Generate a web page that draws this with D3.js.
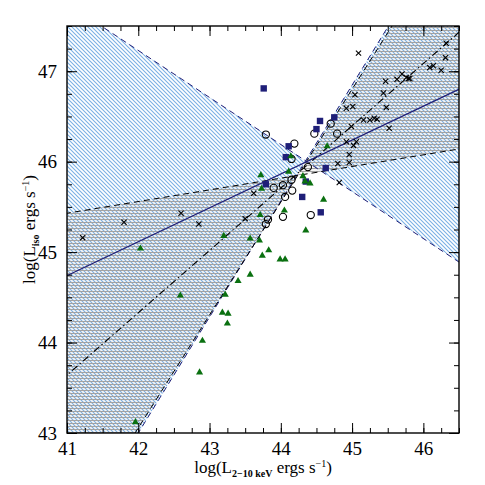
<!DOCTYPE html>
<html>
<head>
<meta charset="utf-8">
<script src="https://cdn.jsdelivr.net/npm/d3@7"></script>
<style>
  body { margin: 0; background: #fff; }
  text { font-family: "Liberation Serif", "DejaVu Serif", serif; fill: #000; }
</style>
</head>
<body>
<div id="chart"></div>
<script>
// axis ticks
var xTicks = [41, 42, 43, 44, 45, 46];
var yTicks = [43, 44, 45, 46, 47];

// fits and their uncertainty bounds (two end points each)
var fitBlack = [[41, 43.64], [46.5, 47.43]];
var boundBlackShallow = [[41, 45.43], [46.5, 46.14]];
var boundBlackSteep = [[41.955, 43], [45.56, 47.5]];
var fitBlue = [[41, 44.74], [46.5, 46.80]];
var boundBlueSteep = [[42.0, 43], [45.51, 47.5]];
var boundBlueNeg = [[41.48, 47.5], [46.5, 44.89]];

// data points
var crosses = [
  [41.22, 45.16], [41.80, 45.33], [42.60, 45.43], [42.85, 45.31], [43.50, 45.37],
  [43.62, 45.65], [45.09, 47.20], [46.32, 47.31], [46.31, 47.15], [46.09, 47.04],
  [46.14, 47.06], [46.25, 47.01], [45.70, 46.97], [45.63, 46.91], [45.76, 46.93],
  [45.79, 46.92], [45.81, 46.92], [45.47, 46.89], [45.04, 46.74], [45.44, 46.76],
  [44.92, 46.59], [45.01, 46.61], [45.48, 46.60], [45.16, 46.46], [45.25, 46.46],
  [45.31, 46.48], [45.35, 46.47], [44.99, 46.39], [45.52, 46.37], [44.92, 46.22],
  [45.02, 46.18], [45.06, 46.22], [44.96, 46.08], [44.80, 45.98], [44.96, 45.99],
  [44.82, 45.77]
];
var circles = [
  [43.79, 46.30], [44.19, 46.20], [44.15, 46.03], [44.47, 46.31], [44.70, 46.42],
  [44.79, 46.31], [44.38, 45.94], [44.15, 45.80], [44.03, 45.74], [43.90, 45.71],
  [44.16, 45.68], [44.06, 45.61], [43.82, 45.36], [43.79, 45.31], [44.03, 45.39],
  [44.42, 45.41]
];
var squares = [
  [43.76, 46.81], [44.55, 46.45], [44.50, 46.36], [44.75, 46.49], [44.11, 46.17],
  [44.07, 46.05], [44.63, 45.93], [43.79, 45.75], [44.35, 45.78], [44.30, 45.61],
  [44.56, 45.44]
];
var triangles = [
  [42.03, 45.04], [42.59, 44.52], [43.20, 45.18], [43.57, 45.15], [43.70, 45.13],
  [43.71, 45.41], [44.05, 45.46], [44.35, 45.24], [43.83, 45.02], [43.74, 44.96],
  [43.99, 44.92], [44.06, 44.92], [43.57, 44.75], [43.40, 44.68], [43.22, 44.53],
  [43.18, 44.33], [43.26, 44.32], [43.25, 44.21], [42.90, 44.02], [42.86, 43.67],
  [41.96, 43.12], [43.72, 45.85], [44.14, 46.06], [44.11, 45.89], [43.73, 45.70],
  [44.31, 45.84], [44.34, 45.78], [44.41, 45.76], [44.65, 46.17], [44.60, 45.58]
];

var W = 485, H = 485;
var margin = {top: 26, right: 26, bottom: 52, left: 67},
    width = W - margin.left - margin.right,
    height = H - margin.top - margin.bottom;

var navy = "#1f1f78", green = "#0a7010", hatchBlue = "#7ab0e4", hatchGray = "#a2a2a2";

var svg = d3.select("#chart").append("svg")
    .attr("width", W).attr("height", H);

var defs = svg.append("defs");
defs.append("clipPath").attr("id", "plotclip")
  .append("rect").attr("width", width).attr("height", height);

var pb = defs.append("pattern").attr("id", "hatchBlue")
    .attr("patternUnits", "userSpaceOnUse").attr("width", 4).attr("height", 4);
pb.append("path").attr("d", "M-1,-1 L5,5 M3,-1 L5,1 M-1,3 L1,5")
    .attr("stroke", hatchBlue).attr("stroke-width", 1.1);

var pg = defs.append("pattern").attr("id", "hatchGray")
    .attr("patternUnits", "userSpaceOnUse").attr("width", 4).attr("height", 3);
pg.append("path").attr("d", "M0,1.5 L4,1.5")
    .attr("stroke", hatchGray).attr("stroke-width", 1.2);

var g = svg.append("g")
    .attr("transform", "translate(" + margin.left + "," + margin.top + ")");

var x = d3.scaleLinear().domain([41, 46.5]).range([0, width]);
var y = d3.scaleLinear().domain([43, 47.5]).range([height, 0]);

// straight line through two points, as a function
function lineFn(pts) {
  var m = (pts[1][1] - pts[0][1]) / (pts[1][0] - pts[0][0]);
  return function(v) { return pts[0][1] + m * (v - pts[0][0]); };
}
function crossing(a, b) {
  var fa = lineFn(a), fb = lineFn(b);
  var ma = fa(1) - fa(0), mb = fb(1) - fb(0);
  var xi = (fb(0) - fa(0)) / (ma - mb);
  return [xi, fa(xi)];
}
// bowtie between two lines, cut to the plot later
function bowtie(a, b) {
  var fa = lineFn(a), fb = lineFn(b), p = crossing(a, b);
  var lo = 35, hi = 52;
  return [
    [p, [lo, fa(lo)], [lo, fb(lo)]],
    [p, [hi, fa(hi)], [hi, fb(hi)]]
  ];
}

var area = d3.line().x(function(d) { return x(d[0]); }).y(function(d) { return y(d[1]); });

var regions = g.append("g").attr("clip-path", "url(#plotclip)");

bowtie(boundBlueSteep, boundBlueNeg).forEach(function(tri) {
  regions.append("path").attr("d", area(tri) + "Z")
      .attr("fill", "url(#hatchBlue)");
});
bowtie(boundBlackSteep, boundBlackShallow).forEach(function(tri) {
  regions.append("path").attr("d", area(tri) + "Z")
      .attr("fill", "url(#hatchGray)");
});

// extend a two point line over the whole x range
function fullLine(pts) {
  var f = lineFn(pts);
  return [[40, f(40)], [47.5, f(47.5)]];
}

var lines = g.append("g").attr("clip-path", "url(#plotclip)").attr("fill", "none");
lines.append("path").attr("d", area(fullLine(boundBlueSteep)))
    .attr("stroke", navy).attr("stroke-width", 1).attr("stroke-dasharray", "6,4");
lines.append("path").attr("d", area(fullLine(boundBlueNeg)))
    .attr("stroke", navy).attr("stroke-width", 1).attr("stroke-dasharray", "6,4");
lines.append("path").attr("d", area(fullLine(boundBlackSteep)))
    .attr("stroke", "#000").attr("stroke-width", 1).attr("stroke-dasharray", "6,4");
lines.append("path").attr("d", area(fullLine(boundBlackShallow)))
    .attr("stroke", "#000").attr("stroke-width", 1).attr("stroke-dasharray", "6,4");
lines.append("path").attr("d", area(fullLine(fitBlack)))
    .attr("stroke", "#000").attr("stroke-width", 1.1).attr("stroke-dasharray", "7,3,1.5,3");
lines.append("path").attr("d", area(fullLine(fitBlue)))
    .attr("stroke", navy).attr("stroke-width", 1.3);

// markers
var pts = g.append("g");
pts.selectAll(".cross").data(crosses).enter().append("path")
    .attr("class", "cross")
    .attr("d", function(d) {
      var cx = x(d[0]), cy = y(d[1]), s = 2.6;
      return "M" + (cx - s) + "," + (cy - s) + "L" + (cx + s) + "," + (cy + s) +
             "M" + (cx - s) + "," + (cy + s) + "L" + (cx + s) + "," + (cy - s);
    })
    .attr("stroke", "#000").attr("stroke-width", 1.1);

pts.selectAll(".circ").data(circles).enter().append("circle")
    .attr("class", "circ")
    .attr("cx", function(d) { return x(d[0]); })
    .attr("cy", function(d) { return y(d[1]); })
    .attr("r", 3.6)
    .attr("fill", "none").attr("stroke", "#000").attr("stroke-width", 1.1);

pts.selectAll(".sq").data(squares).enter().append("rect")
    .attr("class", "sq")
    .attr("x", function(d) { return x(d[0]) - 3.2; })
    .attr("y", function(d) { return y(d[1]) - 3.2; })
    .attr("width", 6.4).attr("height", 6.4)
    .attr("fill", navy);

var triSym = d3.symbol().type(d3.symbolTriangle).size(22);
pts.selectAll(".tri").data(triangles).enter().append("path")
    .attr("class", "tri")
    .attr("transform", function(d) { return "translate(" + x(d[0]) + "," + y(d[1]) + ")"; })
    .attr("d", triSym)
    .attr("fill", green);

// axes: ticks inward on all four sides
var xMinor = d3.range(41, 46.5001, 0.25);
var yMinor = d3.range(43, 47.5001, 0.25);

function addAxis(axis, tr) {
  var a = g.append("g").attr("transform", tr).call(axis);
  a.select(".domain").remove();
  a.selectAll("line").attr("stroke", "#000").attr("stroke-width", 1);
  return a;
}
var fmt = d3.format("d");
addAxis(d3.axisBottom(x).tickValues(xMinor).tickSize(-5).tickFormat(""), "translate(0," + height + ")");
addAxis(d3.axisTop(x).tickValues(xMinor).tickSize(-5).tickFormat(""), "translate(0,0)");
addAxis(d3.axisLeft(y).tickValues(yMinor).tickSize(-5).tickFormat(""), "translate(0,0)");
addAxis(d3.axisRight(y).tickValues(yMinor).tickSize(-5).tickFormat(""), "translate(" + width + ",0)");

var xb = addAxis(d3.axisBottom(x).tickValues(xTicks).tickSize(-10).tickPadding(9).tickFormat(fmt),
    "translate(0," + height + ")");
addAxis(d3.axisTop(x).tickValues(xTicks).tickSize(-10).tickFormat(""), "translate(0,0)");
var yl = addAxis(d3.axisLeft(y).tickValues(yTicks).tickSize(-10).tickPadding(10).tickFormat(fmt),
    "translate(0,0)");
addAxis(d3.axisRight(y).tickValues(yTicks).tickSize(-10).tickFormat(""), "translate(" + width + ",0)");

xb.attr("font-family", null);
yl.attr("font-family", null);
xb.selectAll("text").style("font-size", "19px");
yl.selectAll("text").style("font-size", "19px");

g.append("rect").attr("width", width).attr("height", height)
    .attr("fill", "none").attr("stroke", "#000").attr("stroke-width", 1.4);

// axis titles
var xt = svg.append("text")
    .attr("x", margin.left + width / 2).attr("y", 473)
    .attr("text-anchor", "middle").style("font-size", "17px");
xt.append("tspan").text("log(L");
xt.append("tspan").attr("dy", 4).style("font-size", "10px").style("font-weight", "bold").text("2\u221210 keV");
xt.append("tspan").attr("dy", -4).text(" ergs s");
xt.append("tspan").attr("dy", -6).style("font-size", "10px").text("\u22121");
xt.append("tspan").attr("dy", 6).text(")");

var yt = svg.append("text")
    .attr("transform", "translate(35," + (margin.top + height / 2) + ") rotate(-90)")
    .attr("text-anchor", "middle").style("font-size", "17px");
yt.append("tspan").text("log(L");
yt.append("tspan").attr("dy", 4).style("font-size", "10px").style("font-weight", "bold").text("iso");
yt.append("tspan").attr("dy", -4).text(" ergs s");
yt.append("tspan").attr("dy", -6).style("font-size", "10px").text("\u22121");
yt.append("tspan").attr("dy", 6).text(")");
</script>
</body>
</html>
